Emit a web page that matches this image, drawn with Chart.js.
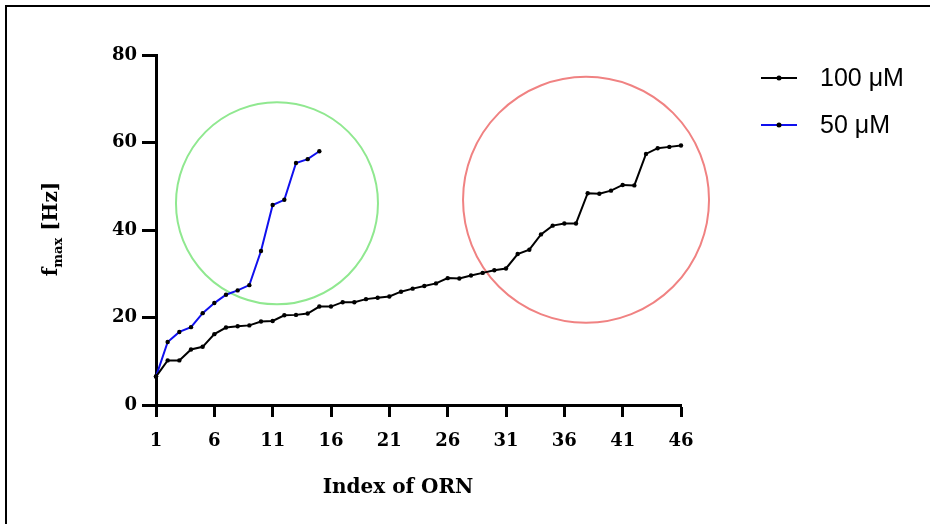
<!DOCTYPE html>
<html>
<script src="https://cdn.jsdelivr.net/npm/chart.js@4"></script>
<style>
  html, body { margin: 0; padding: 0; background: #fff; }
  #wrap { position: relative; width: 930px; height: 524px; }
  #frame {
    position: absolute; left: 5px; top: 5px; right: 0; bottom: 0;
    border-top: 2px solid #000; border-left: 2px solid #000;
    pointer-events: none;
  }
</style>
<body>
<div id="wrap">
  <canvas id="myChart" width="930" height="524"></canvas>
  <div id="frame"></div>
</div>
<script>

// index of ORN
const orn100 = [1,2,3,4,5,6,7,8,9,10,11,12,13,14,15,16,17,18,19,20,21,22,23,24,25,26,27,28,29,30,31,32,33,34,35,36,37,38,39,40,41,42,43,44,45,46];
const orn50  = [1,2,3,4,5,6,7,8,9,10,11,12,13,14,15];

// f_max [Hz]
const fmax100 = [6.5,10.2,10.2,12.7,13.3,16.2,17.7,18.0,18.2,19.1,19.2,20.5,20.6,20.9,22.5,22.5,23.5,23.5,24.2,24.5,24.8,25.9,26.6,27.2,27.8,29.0,28.9,29.6,30.2,30.8,31.2,34.5,35.5,39.0,41.0,41.5,41.5,48.4,48.3,49.0,50.3,50.2,57.4,58.7,59.0,59.3];
const fmax50  = [6.5,14.4,16.7,17.8,21.0,23.3,25.2,26.2,27.4,35.2,45.7,46.9,55.3,56.2,58.0];

const seriesNames = ['100 μM', '50 μM'];

function toPoints(xs, ys) {
  let res = [];
  xs.forEach((x, i) => res.push({x: x, y: ys[i]}));
  return res;
}

const serif = '"DejaVu Serif", serif';

// highlight circles drawn behind the lines
const circlePlugin = {
  id: 'circles',
  beforeDatasetsDraw(chart, args, opts) {
    const ctx = chart.ctx, xs = chart.scales.x, ys = chart.scales.y;
    ctx.save();
    opts.items.forEach((c) => {
      ctx.beginPath();
      ctx.arc(xs.getPixelForValue(c.x), ys.getPixelForValue(c.y), c.r, 0, Math.PI * 2);
      ctx.lineWidth = 2;
      ctx.strokeStyle = c.color;
      ctx.stroke();
    });
    ctx.restore();
  }
};

// legend (line + dot), axis titles (y one has a subscript)
const decorPlugin = {
  id: 'decor',
  afterDraw(chart) {
    const ctx = chart.ctx;
    ctx.save();
    chart.data.datasets.forEach((ds, i) => {
      const y = 78 + i * 47;
      ctx.beginPath();
      ctx.moveTo(761, y);
      ctx.lineTo(797, y);
      ctx.lineWidth = 2;
      ctx.strokeStyle = ds.borderColor;
      ctx.stroke();
      ctx.beginPath();
      ctx.arc(779, y, 2.5, 0, Math.PI * 2);
      ctx.fillStyle = '#000';
      ctx.fill();
      ctx.font = '25px "Liberation Sans", Arial, sans-serif';
      ctx.textBaseline = 'middle';
      ctx.textAlign = 'left';
      ctx.fillText(ds.label, 820, y + 1);
    });

    // x axis title
    ctx.font = 'bold 20px ' + serif;
    ctx.textAlign = 'center';
    ctx.textBaseline = 'middle';
    ctx.fillText('Index of ORN', 398, 488);

    // y axis title: f_max [Hz]
    ctx.translate(57, 229);
    ctx.rotate(-Math.PI / 2);
    ctx.textBaseline = 'alphabetic';
    ctx.textAlign = 'left';
    const big = 'bold 20px ' + serif, small = 'bold 13px ' + serif;
    ctx.font = big;
    const w1 = ctx.measureText('f').width;
    const w3 = ctx.measureText(' [Hz]').width;
    ctx.font = small;
    const w2 = ctx.measureText('max').width;
    let x = -(w1 + w2 + w3) / 2;
    ctx.fillStyle = '#000';
    ctx.font = big;
    ctx.fillText('f', x, 0);
    x += w1;
    ctx.font = small;
    ctx.fillText('max', x, 5);
    x += w2;
    ctx.font = big;
    ctx.fillText(' [Hz]', x, 0);
    ctx.restore();
  }
};

const config = {
  type: 'line',
  data: {
    datasets: [
      {
        label: seriesNames[0],
        data: toPoints(orn100, fmax100),
        borderColor: '#000000',
        borderWidth: 2,
        pointRadius: 2.2,
        pointBackgroundColor: '#000',
        pointBorderWidth: 0,
        tension: 0,
      },
      {
        label: seriesNames[1],
        data: toPoints(orn50, fmax50),
        borderColor: '#1010ee',
        borderWidth: 2,
        pointRadius: 2.2,
        pointBackgroundColor: '#000',
        pointBorderWidth: 0,
        tension: 0,
      },
    ],
  },
  options: {
    responsive: false,
    animation: false,
    clip: false,
    layout: { padding: { left: 0, top: 55, right: 249, bottom: 0 } },
    plugins: {
      legend: { display: false },
      tooltip: { enabled: false },
      circles: {
        items: [
          { x: 11.37, y: 46.1, r: 101, color: 'rgb(144,232,144)' },
          { x: 37.86, y: 46.9, r: 123, color: 'rgb(240,130,130)' },
        ]
      },
    },
    scales: {
      x: {
        type: 'linear',
        min: 1,
        max: 46,
        ticks: {
          stepSize: 5,
          color: '#000',
          padding: 14,
          font: { family: serif, size: 18, weight: 'bold' },
        },
        grid: { drawOnChartArea: false, tickLength: 12, tickWidth: 3, tickColor: '#000' },
        border: { color: '#000', width: 3 },
        afterFit(scale) { scale.height = 119; },
      },
      y: {
        min: 0,
        max: 80,
        ticks: {
          stepSize: 20,
          color: '#000',
          padding: 5,
          font: { family: serif, size: 18, weight: 'bold' },
        },
        grid: { drawOnChartArea: false, tickLength: 14, tickWidth: 3, tickColor: '#000' },
        border: { color: '#000', width: 3 },
        afterFit(scale) { scale.width = 156; },
      },
    },
  },
  plugins: [circlePlugin, decorPlugin],
};
new Chart('myChart', config);
</script>
</body>
</html>
